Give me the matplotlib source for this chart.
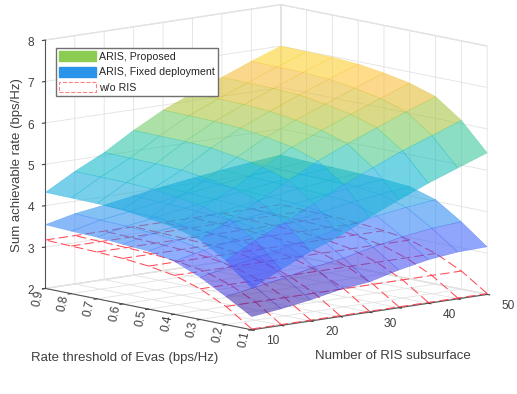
import numpy as np
import matplotlib
matplotlib.use('Agg')
import matplotlib.pyplot as plt
from matplotlib.colors import LinearSegmentedColormap, Normalize
from matplotlib.patches import Patch
from matplotlib.transforms import Affine2D

plt.rcParams['font.family'] = ['Liberation Sans', 'DejaVu Sans']

subsurfaces = [10, 15, 20, 25, 30, 35, 40, 45, 50]
thresholds = [0.1, 0.2, 0.3, 0.4, 0.5, 0.6, 0.7, 0.8, 0.9]
x_tick_labels = ['10', '', '20', '', '30', '', '40', '', '50']
y_tick_labels = ['0.1', '0.2', '0.3', '0.4', '0.5', '0.6', '0.7', '0.8', '0.9']
z_ticks = [2, 3, 4, 5, 6, 7, 8]

# rows: threshold, columns: number of subsurfaces
proposed = [
    [3.00, 3.35, 3.68, 3.95, 4.29, 4.60, 4.90, 5.16, 5.42],
    [3.55, 3.93, 4.26, 4.60, 4.96, 5.26, 5.56, 5.82, 6.08],
    [3.92, 4.31, 4.65, 5.04, 5.40, 5.71, 5.99, 6.27, 6.53],
    [4.10, 4.49, 4.83, 5.24, 5.61, 5.91, 6.19, 6.47, 6.73],
    [4.19, 4.59, 4.94, 5.35, 5.73, 6.03, 6.31, 6.59, 6.85],
    [4.27, 4.67, 5.02, 5.45, 5.82, 6.12, 6.41, 6.68, 6.94],
    [4.30, 4.70, 5.05, 5.48, 5.86, 6.16, 6.44, 6.72, 6.98],
    [4.31, 4.71, 5.06, 5.49, 5.87, 6.17, 6.45, 6.73, 6.99],
    [4.32, 4.72, 5.07, 5.50, 5.88, 6.18, 6.46, 6.74, 7.00],
]
fixed = [
    [2.32, 2.40, 2.51, 2.65, 2.73, 2.91, 3.05, 3.13, 3.15],
    [2.68, 2.80, 2.92, 3.07, 3.18, 3.34, 3.48, 3.58, 3.63],
    [3.02, 3.17, 3.30, 3.45, 3.58, 3.73, 3.86, 3.96, 4.04],
    [3.28, 3.44, 3.56, 3.70, 3.82, 3.94, 4.06, 4.15, 4.23],
    [3.40, 3.56, 3.66, 3.79, 3.91, 4.02, 4.12, 4.21, 4.28],
    [3.44, 3.60, 3.70, 3.83, 3.94, 4.05, 4.15, 4.23, 4.30],
    [3.49, 3.65, 3.75, 3.87, 3.98, 4.08, 4.17, 4.25, 4.32],
    [3.51, 3.67, 3.77, 3.89, 4.00, 4.10, 4.19, 4.27, 4.34],
    [3.54, 3.70, 3.80, 3.92, 4.03, 4.13, 4.22, 4.30, 4.37],
]
no_ris_by_threshold = [2.02, 2.44, 2.74, 2.94, 3.04, 3.10, 3.13, 3.15, 3.17]

parula = LinearSegmentedColormap.from_list('parula', [
    (.2422, .1504, .6603), (.2803, .2782, .9221), (.2440, .4358, .9988),
    (.1540, .5902, .9218), (.1085, .6669, .8734), (.0297, .7082, .8163),
    (.1938, .7758, .6251), (.5044, .7993, .3480), (.8000, .7406, .1596),
    (.9950, .7400, .2300), (.9769, .9239, .0805)])
norm = Normalize(2.3, 7.0)
alpha = 0.58

W, H = 517, 394
fig = plt.figure(figsize=(W / 100, H / 100), dpi=100)
S = 500
ax = fig.add_axes([9.5 / W, -30 / H, S / W, S / H], projection='3d',
                  proj_type='ortho', computed_zorder=False)
ax.set_box_aspect((0.988, 1.0, 0.80), zoom=0.99)
ax.view_init(elev=10, azim=-130.9)

X, Y = np.meshgrid(subsurfaces, thresholds)
def colours(Z):
    c = parula(norm(np.asarray(Z)))
    c[..., 3] = alpha
    return c

Zr = np.tile(np.array(no_ris_by_threshold)[:, None], (1, len(subsurfaces)))
ax.plot_wireframe(X, Y, Zr, rstride=1, cstride=1, color=(1, 0.25, 0.3, 0.95),
                  linewidth=0.75, linestyle=(0, (9, 4)), zorder=2)
ax.plot_surface(X, Y, np.array(fixed), facecolors=colours(fixed), rstride=1, cstride=1,
                shade=False, linewidth=0.3, zorder=3)
ax.plot_surface(X, Y, np.array(proposed), facecolors=colours(proposed), rstride=1, cstride=1,
                shade=False, linewidth=0.3, zorder=4)

ax.set_xlim(10, 50); ax.set_ylim(0.1, 0.9); ax.set_zlim(2, 8)
ax.set_xticks(subsurfaces); ax.set_xticklabels(x_tick_labels)
ax.set_yticks(thresholds); ax.set_yticklabels(y_tick_labels)
ax.set_zticks(z_ticks)
ax.zaxis.set_ticks_position('upper')
ax.zaxis.set_label_position('upper')

tc = '#404040'
for axis in (ax.xaxis, ax.yaxis, ax.zaxis):
    axis.set_pane_color((1, 1, 1, 1))
    axis.pane.set_edgecolor('#e2e2e2')
    axis.line.set_color('#555555')
    axis.line.set_linewidth(0.8)
    axis._axinfo['grid'].update(color='#e2e2e2', linewidth=0.6)
    axis._axinfo['tick'].update(inward_factor=0.15, outward_factor=0.0)
    axis.set_rotate_label(False)
ax.tick_params(axis='both', labelsize=8.6, colors=tc, width=0.6)
ax.tick_params(axis='x', pad=2)
ax.tick_params(axis='y', pad=2, labelrotation=78)
ax.tick_params(axis='z', pad=1)

ax.set_xlabel('Number of RIS subsurface', fontsize=9.5, color=tc, labelpad=4)
ax.set_ylabel('Rate threshold of Evas (bps/Hz)', fontsize=9.5, color=tc, labelpad=4)
ax.set_zlabel('Sum achievable rate (bps/Hz)', fontsize=9.5, color=tc, rotation=90, labelpad=-8)

handles = [Patch(facecolor='#8bcc51', edgecolor='#8bcc51'),
           Patch(facecolor='#2994e9', edgecolor='#2994e9'),
           Patch(facecolor='white', edgecolor='#ff8080', linestyle='--', linewidth=0.8)]
ax.legend(handles, ['ARIS, Proposed', 'ARIS, Fixed deployment', 'w/o RIS'],
          loc='upper left', bbox_to_anchor=(56 / W, 1 - 48 / H), bbox_transform=fig.transFigure,
          fontsize=7.7, fancybox=False, framealpha=1, edgecolor='#707070',
          handlelength=3.45, handleheight=1.03, handletextpad=0.25,
          labelspacing=0.47, borderpad=0.3, borderaxespad=0, labelcolor='#262626')


def shift_when_drawn(text, dx, dy):
    """mplot3d resets text transforms while drawing, so offset (in pixels) at draw time."""
    original = text.draw
    def draw(renderer):
        keep = text._transform
        text._transform = keep + Affine2D().translate(dx, dy)
        original(renderer)
        text._transform = keep
    text.draw = draw


fig.canvas.draw()
for axis, (dx, dy) in ((ax.xaxis, (10, 10)), (ax.yaxis, (5, 15)), (ax.zaxis, (7, 3))):
    for tick in axis.get_major_ticks():
        shift_when_drawn(tick.label1, dx, dy)
for label, cx, cy in ((ax.xaxis.label, 393, 356), (ax.yaxis.label, 125, 358), (ax.zaxis.label, 17, 165)):
    bb = label.get_window_extent(fig.canvas.get_renderer())
    shift_when_drawn(label, cx - (bb.x0 + bb.x1) / 2, (H - cy) - (bb.y0 + bb.y1) / 2)
fig.savefig('out.png', dpi=100)
